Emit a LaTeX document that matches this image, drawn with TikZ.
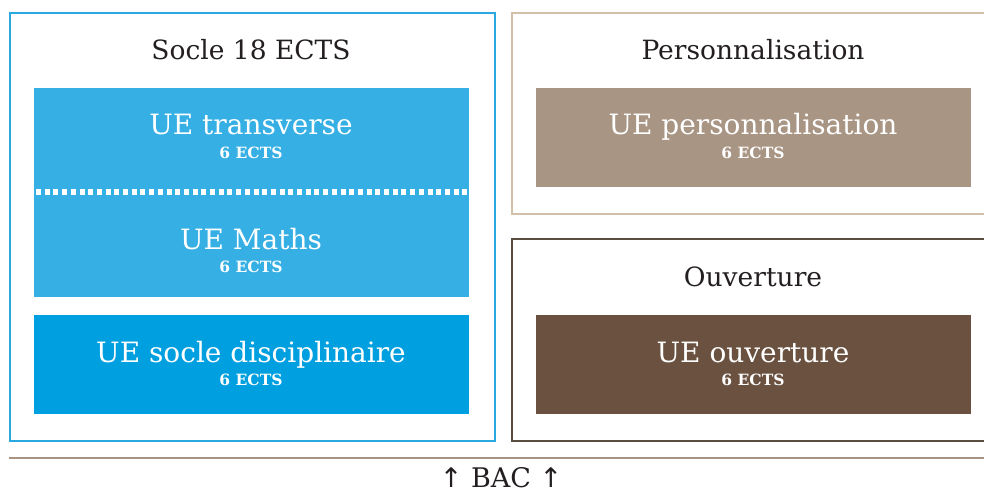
\documentclass[tikz,border=0pt]{standalone}
\usepackage{fontspec}
\setmainfont{DejaVu Serif}
\newfontfamily\arrowfont{DejaVu Sans}
\definecolor{bluelight}{HTML}{35AFE4}
\definecolor{bluedark}{HTML}{009FE0}
\definecolor{blueframe}{HTML}{2AA8E0}
\definecolor{tanbox}{HTML}{A99584}
\definecolor{tanframe}{HTML}{D3C0A8}
\definecolor{brownbox}{HTML}{6A5140}
\definecolor{brownframe}{HTML}{5B4C40}
\definecolor{bacline}{HTML}{A89282}
\definecolor{ink}{HTML}{231F20}
\begin{document}
\begin{tikzpicture}[x=1pt,y=-1pt,
  frame/.style={draw, line width=2pt, anchor=north west, inner sep=0pt},
  uebox/.style={anchor=north west, inner sep=0pt, draw=none},
  title/.style={anchor=base, inner sep=0pt, text=ink, font=\fontsize{26.5}{30}\selectfont},
  uename/.style={anchor=base, inner sep=0pt, text=white, font=\fontsize{28}{32}\selectfont},
  ects/.style={anchor=base, inner sep=0pt, text=white, font=\fontsize{15.5}{18}\selectfont\bfseries},
]
\useasboundingbox (0,0) rectangle (984,492);
\clip (0,0) rectangle (984,492);
\fill[white] (0,0) rectangle (984,492);
% frames
\node[frame, draw=blueframe, minimum width=485pt, minimum height=428pt] (socle) at (9,12) {};
\node[frame, draw=tanframe, minimum width=490pt, minimum height=201pt] (perso) at (511,12) {};
\node[frame, draw=brownframe, minimum width=490pt, minimum height=202pt] (ouv) at (511,238) {};
% inner boxes
\node[uebox, fill=bluelight, minimum width=435pt, minimum height=209pt] (transmaths) at (34,88) {};
\node[uebox, fill=bluedark, minimum width=435pt, minimum height=99pt] (disc) at (34,315) {};
\node[uebox, fill=tanbox, minimum width=435pt, minimum height=99pt] (uepers) at (536,88) {};
\node[uebox, fill=brownbox, minimum width=435pt, minimum height=99pt] (ueouv) at (536,315) {};
% dotted separator
\coordinate (sepL) at (36,192);
\coordinate (sepR) at (469,192);
\draw[white, line width=6pt, dash pattern=on 5pt off 3.7pt] (sepL) -- (sepR);
% titles
\node[title] (t1) at (251,60) {Socle 18 ECTS};
\node[title] (t2) at (753,60) {Personnalisation};
\node[title] (t3) at (753,286) {Ouverture};
% UE labels
\node[uename] (u1) at (251,135) {UE transverse};
\node[ects] (e1) at (251,158) {6 ECTS};
\node[uename] (u2) at (251,249) {UE Maths};
\node[ects] (e2) at (251,272) {6 ECTS};
\node[uename] (u3) at (251,362) {UE socle disciplinaire};
\node[ects] (e3) at (251,385) {6 ECTS};
\node[uename] (u4) at (753,135) {UE personnalisation};
\node[ects] (e4) at (753,158) {6 ECTS};
\node[uename] (u5) at (753,362) {UE ouverture};
\node[ects] (e5) at (753,385) {6 ECTS};
% base line
\coordinate (bl) at (9,458);
\coordinate (br) at (984,458);
\draw[bacline, line width=2pt] (bl) -- (br);
\node[title, font=\fontsize{27}{30}\selectfont] (bac) at (501,487) {{\arrowfont↑} BAC {\arrowfont↑}};
\end{tikzpicture}
\end{document}
